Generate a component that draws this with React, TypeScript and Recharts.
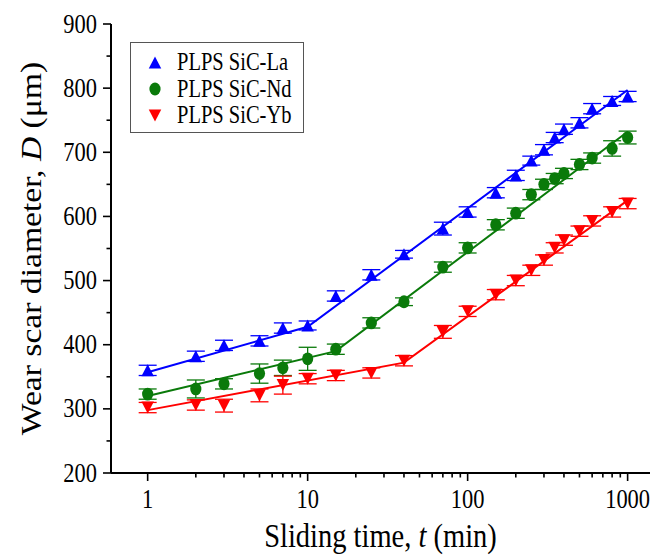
import React from 'react';
import { ComposedChart, Scatter, XAxis, YAxis, ErrorBar, Legend } from 'recharts';

// ---------- data ----------
const times = [1, 2, 3, 5, 7, 10, 15, 25, 40, 70, 100, 150, 200, 250, 300, 350, 400, 500, 600, 800, 1000];

const laValues = [360, 382, 399, 406, 426, 430, 476, 509, 541, 581, 607, 637, 664, 687, 704, 723, 736, 746, 768, 780, 787];
const laErrors = [8, 8, 8, 8, 8, 7, 8, 8, 6, 10, 8, 8, 8, 7, 8, 8, 8, 8, 8, 7, 8];

const ndValues = [323, 331, 339, 355, 364, 378, 393, 434, 467, 521, 551, 587, 605, 634, 650, 659, 667, 681, 691, 706, 723];
const ndErrors = [8, 14, 8, 15, 12, 18, 8, 8, 6, 8, 8, 8, 8, 8, 8, 8, 8, 8, 8, 12, 10];

const ybValues = [302, 306, 305, 321, 337, 347, 352, 356, 375, 420, 452, 478, 500, 516, 532, 551, 563, 577, 593, 607, 620];
const ybErrors = [8, 8, 10, 10, 14, 8, 8, 8, 8, 10, 8, 8, 8, 8, 8, 8, 8, 8, 8, 8, 8];

const laFitTimes = [1, 10, 1000];
const laFitValues = [357, 428, 797];
const ndFitTimes = [1, 15, 1000];
const ndFitValues = [320, 390, 732];
const ybFitTimes = [1, 40, 1000];
const ybFitValues = [298, 372, 625];

const seriesNames = ['PLPS SiC-La', 'PLPS SiC-Nd', 'PLPS SiC-Yb'];

const xTicks = [1, 2, 3, 4, 5, 6, 7, 8, 9, 10, 20, 30, 40, 50, 60, 70, 80, 90, 100, 200, 300, 400, 500, 600, 700, 800, 900, 1000];
const xMajorTicks = [1, 10, 100, 1000];
const yTicks = [200, 250, 300, 350, 400, 450, 500, 550, 600, 650, 700, 750, 800, 850, 900];
const yMajorTicks = [200, 300, 400, 500, 600, 700, 800, 900];
const xDomain = [0.59, 1380];
const yDomain = [200, 900];

const xTitle = ['Sliding time, ', 't', ' (min)'];
const yTitle = ['Wear scar diameter, ', 'D', ' (\u03bcm)'];

// ---------- styles / layout ----------
const FONT = "'Times New Roman', 'Liberation Serif', Times, serif";
const SY = 1.18;
const BLUE = '#0000ff';
const GREEN = '#0a7a0a';
const RED = '#ff0000';
const W = 651;
const H = 556;
const M_TOP = 24;
const M_RIGHT = 1;
const Y_AXIS_W = 111;
const X_AXIS_H = 83;
const PLOT_BOTTOM = H - X_AXIS_H;
const PLOT_RIGHT = W - M_RIGHT;
const TICK_SIZE = 8;
const TICK_MARGIN = 8;

const toPoints = (ts: number[], vs: number[], es?: number[]) =>
  ts.map((t, i) => ({ t, d: vs[i], err: es ? es[i] : 0 }));

const laData = toPoints(times, laValues, laErrors);
const ndData = toPoints(times, ndValues, ndErrors);
const ybData = toPoints(times, ybValues, ybErrors);
const laFit = toPoints(laFitTimes, laFitValues);
const ndFit = toPoints(ndFitTimes, ndFitValues);
const ybFit = toPoints(ybFitTimes, ybFitValues);

// ---------- markers ----------
const TRI_W = 12.5;
const TRI_H = 12;
const upTri = (cx: number, cy: number, fill: string) => (
  <polygon
    points={`${cx},${cy - TRI_H / 2} ${cx + TRI_W / 2},${cy + TRI_H / 2} ${cx - TRI_W / 2},${cy + TRI_H / 2}`}
    fill={fill}
  />
);
const downTri = (cx: number, cy: number, fill: string) => (
  <polygon
    points={`${cx - TRI_W / 2},${cy - TRI_H / 2} ${cx + TRI_W / 2},${cy - TRI_H / 2} ${cx},${cy + TRI_H / 2}`}
    fill={fill}
  />
);
const dot = (cx: number, cy: number, fill: string) => <ellipse cx={cx} cy={cy} rx={5.6} ry={6.4} fill={fill} />;

const UpShape = (p: any) => upTri(p.cx, p.cy, BLUE);
const DotShape = (p: any) => dot(p.cx, p.cy, GREEN);
const DownShape = (p: any) => downTri(p.cx, p.cy, RED);
const NoShape = () => <g />;

// ---------- ticks ----------
const XTick = (props: any) => {
  const { x, y, payload } = props;
  const v = payload.value;
  const major = xMajorTicks.includes(v);
  const axisY = y - TICK_SIZE - TICK_MARGIN;
  return (
    <g>
      <line x1={x} x2={x} y1={axisY} y2={axisY + (major ? 8 : 4.5)} stroke="#000" strokeWidth={1.6} />
      {major && (
        <text
          transform={`translate(${x},${axisY + 35}) scale(1,${SY})`}
          textAnchor="middle"
          fontFamily={FONT}
          fontSize={22.5}
          fill="#000"
        >
          {v}
        </text>
      )}
    </g>
  );
};

const YTick = (props: any) => {
  const { x, y, payload } = props;
  const v = payload.value;
  const major = yMajorTicks.includes(v);
  const axisX = x + TICK_SIZE + TICK_MARGIN;
  return (
    <g>
      <line x1={axisX - (major ? 8 : 4.5)} x2={axisX} y1={y} y2={y} stroke="#000" strokeWidth={1.6} />
      {major && (
        <text
          transform={`translate(${axisX - 14},${y + 8.5}) scale(1,${SY})`}
          textAnchor="end"
          fontFamily={FONT}
          fontSize={22.5}
          fill="#000"
        >
          {v}
        </text>
      )}
    </g>
  );
};

// ---------- titles ----------
const XTitle = () => (
  <text
    transform={`translate(${(Y_AXIS_W + PLOT_RIGHT) / 2},${H - 9}) scale(1,${SY})`}
    textAnchor="middle"
    fontFamily={FONT}
    fontSize={28.5}
    fill="#000"
  >
    {xTitle[0]}
    <tspan fontStyle="italic">{xTitle[1]}</tspan>
    {xTitle[2]}
  </text>
);

const YTitle = () => (
  <text
    transform={`translate(41,${(M_TOP + PLOT_BOTTOM) / 2}) scale(1,${SY}) rotate(-90)`}
    textAnchor="middle"
    fontFamily={FONT}
    fontSize={28.5}
    fill="#000"
  >
    {yTitle[0]}
    <tspan fontStyle="italic">{yTitle[1]}</tspan>
    {yTitle[2]}
  </text>
);

// ---------- legend ----------
const legendMarkers = [
  (cx: number, cy: number) => upTri(cx, cy, BLUE),
  (cx: number, cy: number) => dot(cx, cy, GREEN),
  (cx: number, cy: number) => downTri(cx, cy, RED),
];

const LegendBox = () => (
  <div
    style={{
      width: 174,
      height: 91,
      border: '1px solid #555',
      boxSizing: 'border-box',
      background: '#fff',
    }}
  >
    <svg width={172} height={89} style={{ display: 'block' }}>
      {seriesNames.map((name, i) => {
        const cy = 19.5 + i * 26.5;
        return (
          <g key={name}>
            {legendMarkers[i](24, cy)}
            <text
              transform={`translate(46,${cy + 7.5}) scale(1,${SY})`}
              fontFamily={FONT}
              fontSize={20.5}
              fill="#000"
            >
              {name}
            </text>
          </g>
        );
      })}
    </svg>
  </div>
);

const axisLine = { stroke: '#000', strokeWidth: 2 };

export default function App() {
  return (
    <div style={{ position: 'absolute', left: 0, top: 0, width: W, height: H, background: '#fff' }}>
      <ComposedChart width={W} height={H} margin={{ top: M_TOP, right: M_RIGHT, bottom: 0, left: 0 }}>
        <XAxis
          dataKey="t"
          type="number"
          scale="log"
          domain={xDomain}
          allowDataOverflow
          ticks={xTicks}
          interval={0}
          height={X_AXIS_H}
          tickSize={TICK_SIZE}
          tickMargin={TICK_MARGIN}
          tickLine={false}
          tick={XTick}
          axisLine={axisLine}
          label={XTitle}
        />
        <XAxis
          xAxisId="top"
          orientation="top"
          type="number"
          scale="log"
          domain={xDomain}
          allowDataOverflow
          height={0}
          tick={false}
          tickLine={false}
          axisLine={axisLine}
        />
        <YAxis
          dataKey="d"
          type="number"
          domain={yDomain}
          allowDataOverflow
          ticks={yTicks}
          interval={0}
          width={Y_AXIS_W}
          tickSize={TICK_SIZE}
          tickMargin={TICK_MARGIN}
          tickLine={false}
          tick={YTick}
          axisLine={axisLine}
          label={YTitle}
        />
        <YAxis
          yAxisId="right"
          orientation="right"
          type="number"
          domain={yDomain}
          width={0}
          tick={false}
          tickLine={false}
          axisLine={axisLine}
        />
        <Scatter data={laFit} line={{ stroke: BLUE, strokeWidth: 2 }} shape={NoShape} isAnimationActive={false} legendType="none" />
        <Scatter data={ndFit} line={{ stroke: GREEN, strokeWidth: 2 }} shape={NoShape} isAnimationActive={false} legendType="none" />
        <Scatter data={ybFit} line={{ stroke: RED, strokeWidth: 2 }} shape={NoShape} isAnimationActive={false} legendType="none" />
        <Scatter name={seriesNames[0]} data={laData} shape={UpShape} isAnimationActive={false}>
          <ErrorBar dataKey="err" direction="y" width={9} stroke={BLUE} strokeWidth={1.3} />
        </Scatter>
        <Scatter name={seriesNames[1]} data={ndData} shape={DotShape} isAnimationActive={false}>
          <ErrorBar dataKey="err" direction="y" width={9} stroke={GREEN} strokeWidth={1.3} />
        </Scatter>
        <Scatter name={seriesNames[2]} data={ybData} shape={DownShape} isAnimationActive={false}>
          <ErrorBar dataKey="err" direction="y" width={9} stroke={RED} strokeWidth={1.3} />
        </Scatter>
        <Legend
          content={LegendBox}
          layout="vertical"
          verticalAlign="middle"
          align="center"
          wrapperStyle={{ left: 130, top: 42, width: 174, height: 91 }}
        />
      </ComposedChart>
    </div>
  );
}
